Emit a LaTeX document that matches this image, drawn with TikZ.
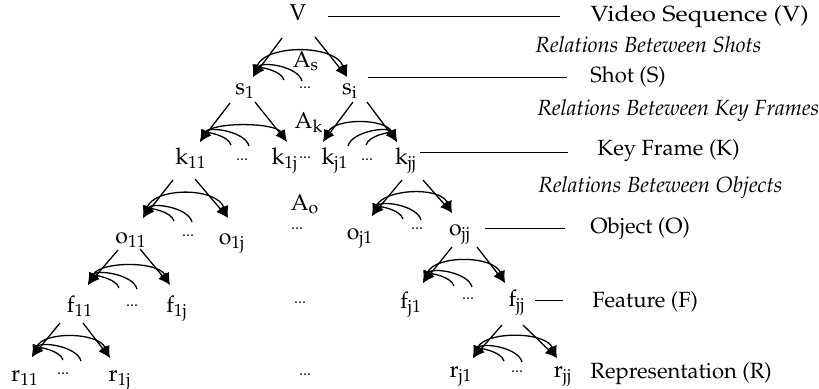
\documentclass[tikz,border=0pt]{standalone}
\usepackage[T1]{fontenc}
\usepackage{mathpazo}
\usetikzlibrary{arrows.meta,calc}
\newcommand\sub[1]{$_{\mathrm{#1}}$}
% big two-headed arc between two tips plus two short arcs from the left tip
\newcommand\hfamL[3]{%
  \draw[darr] (#1) .. controls ($(#1)+(12,-#3)$) and ($(#2)+(-12,-#3)$) .. (#2);
  \draw[larr] (#1) .. controls ($(#1)+(6,-10)$) and ($(#1)+(28,-7)$) .. ($(#1)+(31,3)$);
  \draw[larr] (#1) .. controls ($(#1)+(8,-16)$) and ($(#1)+(45,-11)$) .. ($(#1)+(49,4)$);}
% same, short arcs from the right tip
\newcommand\hfamR[3]{%
  \draw[darr] (#1) .. controls ($(#1)+(12,-#3)$) and ($(#2)+(-12,-#3)$) .. (#2);
  \draw[larr] (#2) .. controls ($(#2)+(-6,-10)$) and ($(#2)+(-28,-7)$) .. ($(#2)+(-31,3)$);
  \draw[larr] (#2) .. controls ($(#2)+(-8,-16)$) and ($(#2)+(-45,-11)$) .. ($(#2)+(-49,4)$);}
\begin{document}
\begin{tikzpicture}[x=0.5pt,y=-0.5pt,
  nd/.style={font=\fontsize{11.5}{13}\selectfont, inner sep=0pt, text height=5.5pt, text depth=1.5pt},
  dt/.style={font=\fontsize{8}{9}\selectfont, inner sep=0pt},
  lab/.style={font=\fontsize{11}{13}\selectfont, inner sep=0pt, anchor=west, text height=7.5pt, text depth=2pt},
  rel/.style={lab, font=\fontsize{11}{13}\selectfont\itshape},
  tipL/.tip={Latex[length=6pt,width=5pt]},
  arr/.style={line width=0.65pt, -tipL},
  darr/.style={line width=0.65pt, tipL-tipL},
  larr/.style={line width=0.65pt, tipL-},
  lbl/.style={line width=0.5pt}]
\useasboundingbox (0,0) rectangle (819,388);

% ---------- nodes ----------
\node[nd] (V) at (298,16) {V};

\node[nd] (s1) at (245,90) {s\sub{1}};
\node[nd] (si) at (350,90) {s\sub{i}};
\node[dt] (ds) at (305,88) {...};
\node[nd] (As) at (306,63) {A\sub{s}};

\node[nd] (k11) at (191,160) {k\sub{11}};
\node[nd] (k1j) at (285,160) {k\sub{1j}};
\node[nd] (kj1) at (335,160) {k\sub{j1}};
\node[nd] (kjj) at (406,160) {k\sub{jj}};
\node[dt] (dk1) at (242,160) {...};
\node[dt] (dk2) at (305,158) {...};
\node[dt] (dk3) at (367,160) {...};
\node[nd] (Ak) at (309,124) {A\sub{k}};

\node[nd] (o11) at (131,239) {o\sub{11}};
\node[nd] (o1j) at (232,240) {o\sub{1j}};
\node[nd] (oj1) at (360,235) {o\sub{j1}};
\node[nd] (ojj) at (460,231) {o\sub{jj}};
\node[dt] (do1) at (188,236) {...};
\node[dt] (do2) at (297,229) {...};
\node[dt] (do3) at (417,229) {...};
\node[nd] (Ao) at (305,206) {A\sub{o}};

\node[nd] (f11) at (80,308) {f\sub{11}};
\node[nd] (f1j) at (177,308) {f\sub{1j}};
\node[nd] (fj1) at (411,304) {f\sub{j1}};
\node[nd] (fjj) at (517,302) {f\sub{jj}};
\node[dt] (df1) at (132,306) {...};
\node[dt] (df2) at (300,303) {...};
\node[dt] (df3) at (468,299) {...};

\node[nd] (r11) at (25,377) {r\sub{11}};
\node[nd] (r1j) at (120,377) {r\sub{1j}};
\node[nd] (rj1) at (461,373) {r\sub{j1}};
\node[nd] (rjj) at (563,373) {r\sub{jj}};
\node[dt] (dr1) at (63,374) {...};
\node[dt] (dr2) at (305,375) {...};
\node[dt] (dr3) at (517,372) {...};

% right-hand labels
\node[lab] (LV) at (590,16) {\scalebox{1.15}[1]{Video Sequence (V)}};
\node[rel] (RS) at (535,47) {Relations Beteween Shots};
\node[lab] (LS) at (590,77) {Shot (S)};
\node[rel] (RK) at (537,110) {Relations Beteween Key Frames};
\node[lab] (LK) at (597,150) {Key Frame (K)};
\node[rel] (RO) at (538,187) {Relations Beteween Objects};
\node[lab] (LO) at (590,228) {Object (O)};
\node[lab] (LF) at (592,302) {Feature (F)};
\node[lab] (LR) at (590,373) {Representation (R)};

% ---------- arrow tips (on the children) ----------
\coordinate (t-s1) at ($(s1)+(8,-13)$);
\coordinate (t-si) at ($(si)+(-3,-13)$);
\coordinate (t-k11) at ($(k11)+(9,-18)$);
\coordinate (t-k1j) at ($(k1j)+(2,-18)$);
\coordinate (t-kj1) at ($(kj1)+(-12,-18)$);
\coordinate (t-kjj) at ($(kjj)+(-9,-18)$);
\coordinate (t-o11) at ($(o11)+(12,-21)$);
\coordinate (t-o1j) at ($(o1j)+(-4,-22)$);
\coordinate (t-oj1) at ($(oj1)+(12,-19)$);
\coordinate (t-ojj) at ($(ojj)+(-8,-18)$);
\coordinate (t-f11) at ($(f11)+(8,-23)$);
\coordinate (t-f1j) at ($(f1j)+(-7,-23)$);
\coordinate (t-fj1) at ($(fj1)+(12,-21)$);
\coordinate (t-fjj) at ($(fjj)+(-12,-19)$);
\coordinate (t-r11) at ($(r11)+(7,-20)$);
\coordinate (t-r1j) at ($(r1j)+(-10,-19)$);
\coordinate (t-rj1) at ($(rj1)+(12,-15)$);
\coordinate (t-rjj) at ($(rjj)+(-6,-15)$);

% ---------- parent -> child arrows ----------
\draw[arr] ($(V)+(-16,22)$) -- (t-s1);
\draw[arr] ($(V)+(17,21)$) -- (t-si);
\draw[arr] ($(s1)+(-15,13)$) -- (t-k11);
\draw[arr] ($(s1)+(10,12)$) -- (t-k1j);
\draw[arr] ($(si)+(3,12)$) -- (t-kj1);
\draw[arr] ($(si)+(17,12)$) -- (t-kjj);
\draw[arr] ($(k11)+(-18,20)$) -- (t-o11);
\draw[arr] ($(k11)+(4,19)$) -- (t-o1j);
\draw[arr] ($(kjj)+(-4,20)$) -- (t-oj1);
\draw[arr] ($(kjj)+(17,20)$) -- (t-ojj);
\draw[arr] ($(o11)+(-13,11)$) -- (t-f11);
\draw[arr] ($(o11)+(9,10)$) -- (t-f1j);
\draw[arr] ($(ojj)+(-8,16)$) -- (t-fj1);
\draw[arr] ($(ojj)+(17,16)$) -- (t-fjj);
\draw[arr] ($(f11)+(-20,15)$) -- (t-r11);
\draw[arr] ($(f11)+(3,15)$) -- (t-r1j);
\draw[arr] ($(fjj)+(-15,23)$) -- (t-rj1);
\draw[arr] ($(fjj)+(6,23)$) -- (t-rjj);

% ---------- relation arcs ----------
\hfamL{t-s1}{t-si}{33}
\hfamL{t-k11}{t-k1j}{20}
\hfamR{t-kj1}{t-kjj}{24}
\hfamL{t-o11}{t-o1j}{31}
\hfamL{t-oj1}{t-ojj}{27}
\hfamL{t-f11}{t-f1j}{24}
\hfamL{t-fj1}{t-fjj}{28}
\hfamL{t-r11}{t-r1j}{26}
\hfamL{t-rj1}{t-rjj}{27}

% ---------- level lines ----------
\draw[lbl] ($(V)+(30,0)$) -- ($(LV.west)+(-30,0)$);
\draw[lbl] ($(si)+(18,-13)$) -- ($(LS.west)+(-23,0)$);
\draw[lbl] ($(kjj)+(14,-8)$) -- ($(LK.west)+(-29,2)$);
\draw[lbl] ($(ojj)+(25,-3)$) -- ($(LO.west)+(-25,0)$);
\draw[lbl] ($(fjj)+(18,-2)$) -- ($(LF.west)+(-29,-2)$);
\end{tikzpicture}
\end{document}
